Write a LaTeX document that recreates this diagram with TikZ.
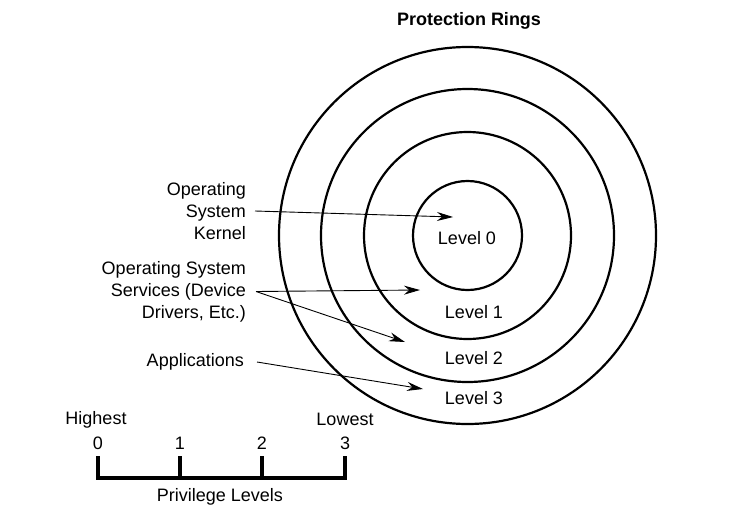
\documentclass[tikz,border=0pt]{standalone}
\usepackage{fontspec}
\setmainfont{Liberation Sans}
\usetikzlibrary{arrows.meta,positioning,calc}

\begin{document}
\begin{tikzpicture}[x=1pt,y=-1pt,
        font=\fontsize{18}{22}\selectfont,
        ring/.style={line width=2.2pt},
        label/.style={anchor=east, align=right, inner sep=0pt},
        pointer/.style={line width=0.9pt, -{Stealth[length=16pt,width=9pt]}},
        bar/.style={line width=3.6pt}]
    \useasboundingbox (0,0) rectangle (743,508);

    % rings
    \coordinate (centre) at (467.5,235.5);
    \foreach \r in {54.5,103.5,146.5,188.5}
        \draw[ring] (centre) circle (\r);
    \node[font=\fontsize{18}{22}\selectfont\bfseries] (title) at (469,21) {Protection Rings};

    \node (lvl0) at (467,238) {Level 0};
    \node (lvl1) at (474,312) {Level 1};
    \node (lvl2) at (474,358) {Level 2};
    \node (lvl3) at (474,398) {Level 3};

    % labels on the left
    \node[label] (kernel) at (246,211) {Operating\\System\\Kernel};
    \node[label] (services) at (246,291.5) {Operating System\\Services (Device\\Drivers, Etc.)};
    \node[label] (apps) at (244,362) {Applications};

    \coordinate (kernelout) at ($(kernel.east)+(9,0)$);
    \coordinate (servicesout) at ($(services.east)+(10,0)$);
    \coordinate (appsout) at ($(apps.east)+(13,0)$);
    \coordinate (tip0) at (453,217);
    \coordinate (tip1) at (420,290);
    \coordinate (tip2) at (405,342);
    \coordinate (tip3) at (423,389);

    \draw[pointer] (kernelout) -- (tip0);
    \draw[pointer] (servicesout) -- (tip1);
    \draw[pointer] (servicesout) -- (tip2);
    \draw[pointer] (appsout) -- (tip3);

    % privilege scale
    \foreach \n/\x in {0/98,1/180,2/262,3/345}
        \node (num\n) at (\x,443) {\n};
    \node (highest) at (96,420) {Highest};
    \node (lowest) at (345,419) {Lowest};
    \draw[bar] (98,456) |- (345,478) -- (345,456);
    \foreach \x in {180,262}
        \draw[bar] (\x,456) -- (\x,478);
    \node (privlevels) at (220,497) {Privilege Levels};
\end{tikzpicture}
\end{document}
